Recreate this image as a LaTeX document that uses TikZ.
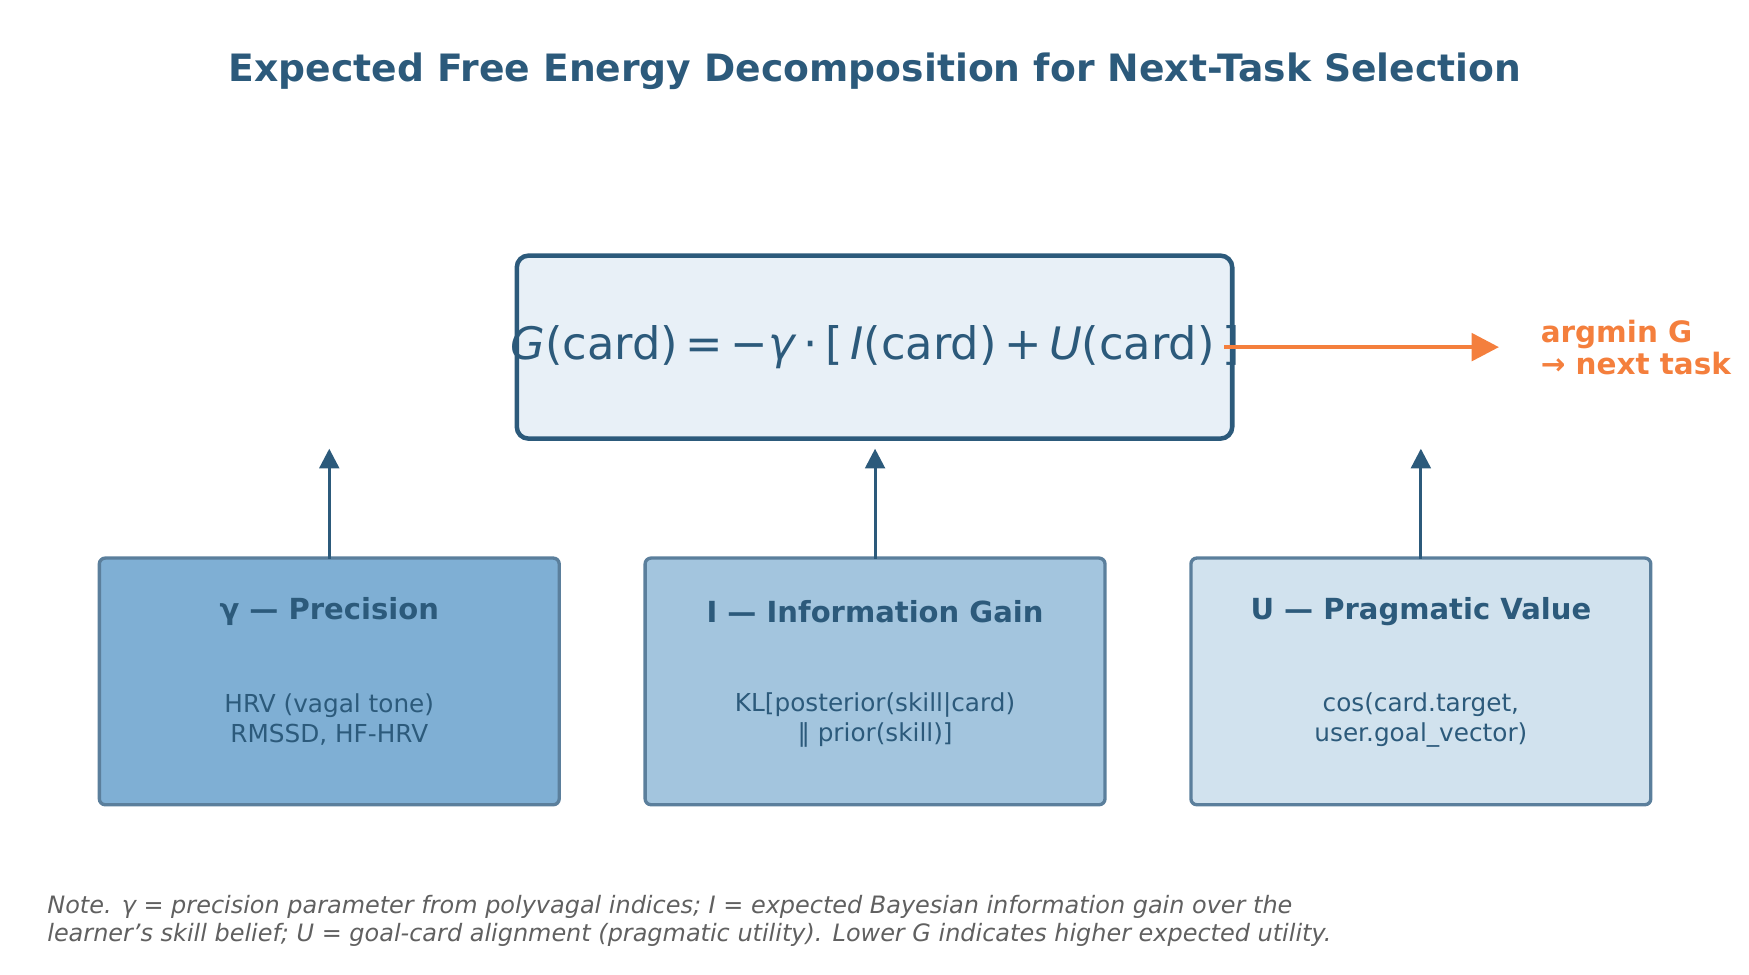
\documentclass[tikz,border=0pt]{standalone}
\usepackage{fontspec}
\setmainfont{DejaVu Sans}
\usetikzlibrary{arrows.meta}
\definecolor{navy}{HTML}{2C5A7B}
\definecolor{edge}{HTML}{5B7F9C}
\definecolor{orng}{HTML}{F47F3D}
\definecolor{fillA}{HTML}{7FAFD4}
\definecolor{fillB}{HTML}{A3C5DE}
\definecolor{fillC}{HTML}{D1E2EE}
\definecolor{fillG}{HTML}{E8F0F7}
\definecolor{note}{HTML}{606060}

\begin{document}
\begin{tikzpicture}[%
      x=0.01cm, y=-0.01cm,
      term/.style={draw=edge, line width=0.85pt, rounded corners=1.5pt},
      head/.style={text=navy, font=\fontsize{7.4}{9}\selectfont\bfseries},
      body/.style={text=navy, align=center, font=\fontsize{6.3}{7.6}\selectfont},
      feed/.style={draw=navy, line width=0.8pt, -{Triangle[length=5pt,width=5pt]}},
      ]
      \useasboundingbox (0,0) rectangle (1567,873);

      \node[text=navy, font=\fontsize{9.6}{11}\selectfont\bfseries] (title) at (784,64)
        {Expected Free Energy Decomposition for Next-Task Selection};

      \draw[draw=navy, fill=fillG, line width=1.15pt, rounded corners=3pt] (463,229) rectangle (1104,393);
      \node[text=navy, font=\fontsize{11.4}{13}\selectfont] (formula) at (784,311)
        {\textit{G}(card)\,=\,−\textit{γ}\,·\,[\,\textit{I}(card)\,+\,\textit{U}(card)\,]};

      \coordinate (out) at (1097,311);
      \node[anchor=west, text=orng, align=left, font=\fontsize{7.5}{8.2}\selectfont\bfseries] (argmin) at (1368,311)
        {argmin G\\→ next task};
      \draw[draw=orng, line width=1.15pt, -{Triangle[length=7pt,width=7pt]}] (out) -- (1343,311);

      \draw[term, fill=fillA] (89,500) rectangle (501,721);
      \draw[term, fill=fillB] (578,500) rectangle (990,721);
      \draw[term, fill=fillC] (1067,500) rectangle (1479,721);

      \node[head] (precision) at (295,548) {γ — Precision};
      \node[head] (infogain) at (784,548) {I — Information Gain};
      \node[head] (pragmatic) at (1273,548) {U — Pragmatic Value};

      \node[body] (hrv) at (295,645) {HRV (vagal tone)\\RMSSD, HF-HRV};
      \node[body] (kl) at (784,645) {KL[posterior(skill|card)\\‖ prior(skill)]};
      \node[body] (cos) at (1273,645) {cos(card.target,\\user.goal\_vector)};

      \coordinate (pA) at (295,501);
      \coordinate (pB) at (784,501);
      \coordinate (pC) at (1273,501);
      \coordinate (tA) at (295,402);
      \coordinate (tB) at (784,402);
      \coordinate (tC) at (1273,402);
      \draw[feed] (pA) -- (tA);
      \draw[feed] (pB) -- (tB);
      \draw[feed] (pC) -- (tC);

      \node[anchor=north west, text=note, align=left, font=\fontsize{6.1}{7}\selectfont\itshape] (note) at (30,790)
        {Note. γ = precision parameter from polyvagal indices; I = expected Bayesian information gain over the\\
         learner's skill belief; U = goal-card alignment (pragmatic utility). Lower G indicates higher expected utility.};
      \end{tikzpicture}
\end{document}
